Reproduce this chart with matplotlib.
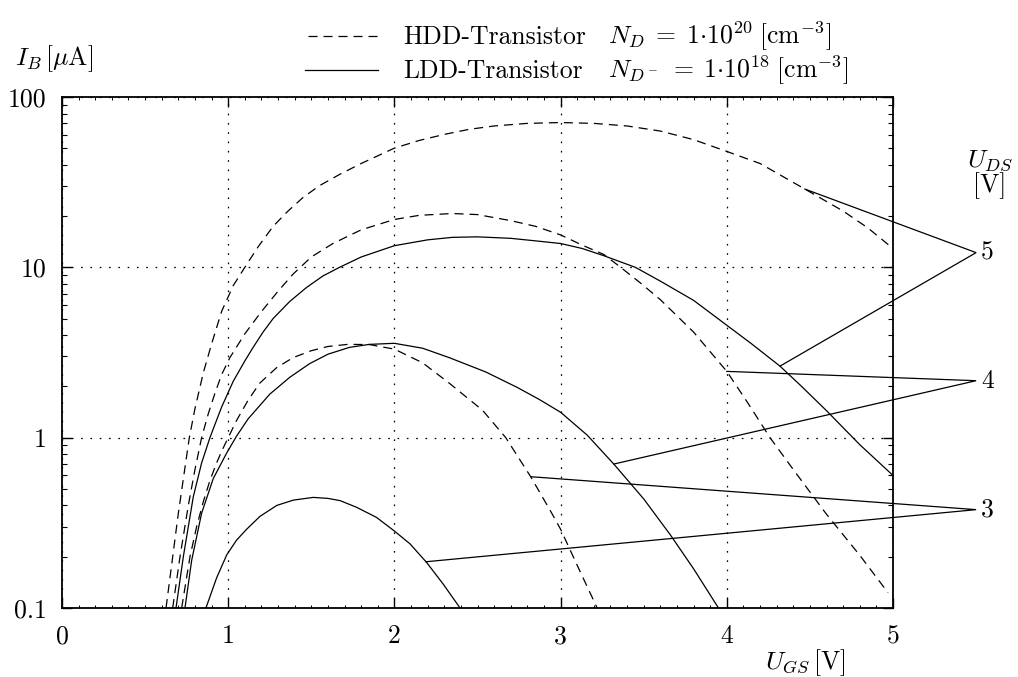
import numpy as np
import matplotlib
matplotlib.use("Agg")
import matplotlib.pyplot as plt
from matplotlib.lines import Line2D
from matplotlib.ticker import LogLocator, NullFormatter

plt.rcParams.update({
    "font.family": "cmr10",
    "mathtext.fontset": "cm",
    "axes.formatter.use_mathtext": True,
    "font.size": 18.5,
    "lines.scale_dashes": False,
})

# Substrate current I_B [uA] versus gate voltage U_GS [V]
# HDD transistor (dashed), U_DS = 5, 4, 3 V
hdd5_x = [0.626, 0.66, 0.70, 0.766, 0.80, 0.85, 0.90, 0.96, 1.03, 1.10, 1.18, 1.27,
          1.36, 1.45, 1.55, 1.67, 1.8, 2.0, 2.15, 2.3, 2.45, 2.6, 2.8, 3.0, 3.2,
          3.4, 3.6, 3.8, 4.0, 4.2, 4.47, 4.7, 4.85, 5.0]
hdd5_y = [0.1, 0.18, 0.36, 1.0, 1.48, 2.4, 3.55, 5.5, 7.8, 10.0, 13.2, 17.4,
          21.4, 25.7, 30.2, 35.1, 40.7, 50.1, 55.6, 60.3, 64.6, 67.6, 70.0, 70.8, 70.0,
          67.6, 63.1, 56.2, 47.9, 40.7, 28.8, 21.4, 17.0, 12.9]

hdd4_x = [0.666, 0.71, 0.76, 0.80, 0.84, 0.88, 0.92, 0.96, 1.01, 1.10, 1.20, 1.30,
          1.39, 1.50, 1.63, 1.8, 2.0, 2.15, 2.35, 2.5, 2.7, 2.85, 3.0, 3.13, 3.26,
          3.35, 3.48, 3.6, 3.8, 4.0, 4.13, 4.26, 4.4, 4.6, 4.8, 4.97]
hdd4_y = [0.1, 0.2, 0.4, 0.65, 1.0, 1.38, 1.82, 2.34, 2.95, 4.07, 5.5, 7.24,
          9.12, 11.5, 13.8, 16.6, 19.1, 20.2, 20.7, 20.4, 18.8, 17.4, 15.5, 13.5, 11.9,
          10.2, 8.1, 6.46, 4.17, 2.45, 1.58, 1.0, 0.65, 0.355, 0.204, 0.123]

hdd3_x = [0.72, 0.77, 0.81, 0.85, 0.89, 0.93, 0.965, 1.0, 1.05, 1.12, 1.19, 1.29,
          1.39, 1.5, 1.6, 1.72, 1.85, 2.0, 2.17, 2.33, 2.43, 2.53, 2.67, 2.82, 2.94,
          3.0, 3.1, 3.22]
hdd3_y = [0.1, 0.2, 0.3, 0.42, 0.56, 0.71, 0.85, 1.0, 1.26, 1.66, 2.09, 2.57,
          2.95, 3.24, 3.43, 3.53, 3.52, 3.31, 2.75, 2.09, 1.74, 1.45, 1.0, 0.59, 0.37,
          0.29, 0.178, 0.1]

# LDD transistor (solid), U_DS = 5, 4, 3 V
ldd5_x = [0.686, 0.73, 0.79, 0.84, 0.89, 0.96, 1.03, 1.10, 1.15, 1.21, 1.27, 1.37,
          1.47, 1.57, 1.67, 1.8, 2.0, 2.2, 2.35, 2.5, 2.7, 2.85, 3.0, 3.13, 3.26,
          3.45, 3.6, 3.8, 4.0, 4.15, 4.32, 4.45, 4.6, 4.8, 5.0]
ldd5_y = [0.1, 0.2, 0.45, 0.71, 1.0, 1.51, 2.14, 2.82, 3.39, 4.17, 5.0, 6.3,
          7.6, 8.9, 10.0, 11.5, 13.4, 14.5, 15.0, 15.1, 14.8, 14.3, 13.8, 12.9, 11.7,
          10.0, 8.3, 6.4, 4.57, 3.55, 2.63, 2.0, 1.44, 0.91, 0.6]

ldd4_x = [0.74, 0.78, 0.84, 0.91, 0.99, 1.05, 1.12, 1.25, 1.37, 1.49, 1.6, 1.73,
          1.85, 2.0, 2.17, 2.33, 2.55, 2.74, 2.87, 3.0, 3.16, 3.32, 3.5, 3.66, 3.8, 3.95]
ldd4_y = [0.1, 0.19, 0.36, 0.575, 0.81, 1.02, 1.29, 1.80, 2.26, 2.72, 3.09, 3.39,
          3.53, 3.58, 3.35, 2.95, 2.43, 1.97, 1.68, 1.41, 1.035, 0.70, 0.437, 0.269,
          0.17, 0.1]

ldd3_x = [0.866, 0.93, 0.991, 1.05, 1.111, 1.191, 1.292, 1.392, 1.512, 1.6, 1.673,
          1.773, 1.893, 1.998, 2.094, 2.194, 2.294, 2.395]
ldd3_y = [0.1, 0.15, 0.205, 0.25, 0.29, 0.345, 0.40, 0.43, 0.446, 0.44, 0.427,
          0.390, 0.340, 0.284, 0.238, 0.185, 0.138, 0.1]

uds_values = ["5", "4", "3"]
callout_hdd_x = [4.47, 4.0, 2.82]
callout_ldd_x = [4.32, 3.32, 2.19]
callout_tip_y = [12.2, 2.16, 0.378]
callout_tip_x = 5.5

x_ticks = [0, 1, 2, 3, 4, 5]
x_tick_labels = ["0", "1", "2", "3", "4", "5"]
y_ticks = [0.1, 1, 10, 100]
y_tick_labels = ["0.1", "1", "10", "100"]

W, H = 1018, 677
fig = plt.figure(figsize=(W / 100, H / 100), dpi=100)
ax = fig.add_axes([62 / W, 1 - 608 / H, (893 - 62) / W, (608 - 97) / H])

dash = (6.5, 4.3)
lw = 0.9
hdd = [(hdd5_x, hdd5_y), (hdd4_x, hdd4_y), (hdd3_x, hdd3_y)]
ldd = [(ldd5_x, ldd5_y), (ldd4_x, ldd4_y), (ldd3_x, ldd3_y)]
for x, y in hdd:
    ax.plot(x, y, color="k", lw=lw, linestyle=(0, dash))
for x, y in ldd:
    ax.plot(x, y, color="k", lw=lw)


def on_curve(xq, x, y):
    return 10 ** np.interp(xq, x, np.log10(y))


# Leader lines from each curve pair to its U_DS label
for i, lab in enumerate(uds_values):
    hx, hy = hdd[i]
    lx, ly = ldd[i]
    p1 = (callout_hdd_x[i], on_curve(callout_hdd_x[i], hx, hy))
    p2 = (callout_ldd_x[i], on_curve(callout_ldd_x[i], lx, ly))
    tip = (callout_tip_x, callout_tip_y[i])
    ax.plot([p1[0], tip[0], p2[0]], [p1[1], tip[1], p2[1]], color="k", lw=lw,
            clip_on=False, solid_joinstyle="miter")
    ax.text(callout_tip_x + 0.03, callout_tip_y[i], lab, ha="left", va="center",
            clip_on=False)

ax.set_xlim(0, 5)
ax.set_yscale("log")
ax.set_ylim(0.1, 100)
ax.set_xticks(x_ticks)
ax.set_xticklabels(x_tick_labels)
ax.set_xticks(np.arange(0, 5.001, 0.1), minor=True)
ax.set_yticks(y_ticks)
ax.set_yticklabels(y_tick_labels)
ax.yaxis.set_minor_locator(LogLocator(base=10, subs=range(2, 10)))
ax.yaxis.set_minor_formatter(NullFormatter())

ax.tick_params(which="both", direction="in", top=True, right=True, color="k")
ax.tick_params(which="major", length=7, width=1.0)
ax.tick_params(axis="x", which="minor", length=2.2, width=0.7)
ax.tick_params(axis="y", which="minor", length=3.8, width=0.8)
ax.tick_params(axis="x", which="major", pad=12)
ax.tick_params(axis="y", which="major", pad=11)
for s in ax.spines.values():
    s.set_linewidth(1.3)

ax.grid(which="major", color="k", lw=0.9, linestyle=(0, (1.2, 5.5)))

# Axis titles
fig.text(15 / W, 1 - 65 / H, r"$I_B\,[\mu\mathrm{A}]$", ha="left", va="baseline")
fig.text(765 / W, 1 - 669 / H, r"$U_{GS}\,[\mathrm{V}]$", ha="left", va="baseline")
fig.text(990 / W, 1 - 167 / H, r"$U_{DS}$", ha="center", va="baseline")
fig.text(990 / W, 1 - 192 / H, "[V]", ha="center", va="baseline")

# Legend
fig.add_artist(Line2D([308 / W, 378 / W], [1 - 36 / H, 1 - 36 / H], color="k", lw=lw,
                      linestyle=(0, dash), transform=fig.transFigure))
fig.add_artist(Line2D([305 / W, 378 / W], [1 - 70 / H, 1 - 70 / H], color="k", lw=lw,
                      transform=fig.transFigure))
fig.text(403 / W, 1 - 44 / H, "HDD-Transistor", ha="left", va="baseline")
fig.text(403 / W, 1 - 78 / H, "LDD-Transistor", ha="left", va="baseline")
fig.text(608 / W, 1 - 44 / H, r"$N_D\;=\;1{\cdot}10^{20}\;[\mathrm{cm}^{-3}]$",
         ha="left", va="baseline")
fig.text(608 / W, 1 - 78 / H, r"$N_{D^-}\;=\;1{\cdot}10^{18}\;[\mathrm{cm}^{-3}]$",
         ha="left", va="baseline")

fig.savefig("out.png", dpi=100)
